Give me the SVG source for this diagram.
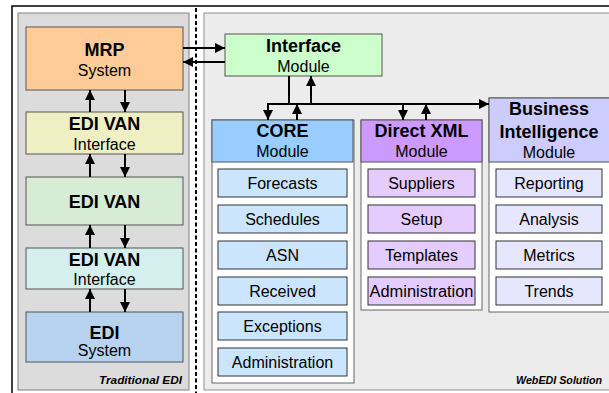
<svg xmlns="http://www.w3.org/2000/svg" width="609" height="393" viewBox="0 0 609 393">
<style>
text{font-family:"Liberation Sans",Arial,sans-serif;fill:#000;text-anchor:middle}
.t{font-weight:bold;font-size:18px}
.s{font-size:16px}
.it{font-size:16px}
.cap{font-weight:bold;font-style:italic;font-size:11.5px}
.box{stroke:#555;stroke-width:1}
.item{stroke:#333;stroke-width:1}
.cont{fill:#fff;stroke:#666;stroke-width:1}
.ln{stroke:#000;stroke-width:2;fill:none}
</style>
<defs>
<marker id="ah" viewBox="0 0 10 10" markerUnits="userSpaceOnUse" markerWidth="10" markerHeight="10" refX="10" refY="5" orient="auto">
<path d="M0,0 L10,5 L0,10 z" fill="#000"/>
</marker>
</defs>
<rect width="609" height="393" fill="#fff"/>
<path d="M12,393 V6 H609" fill="none" stroke="#000" stroke-width="1.5"/>
<g id="panels">
<rect x="18" y="13" width="171" height="377" fill="#dcdcdc" stroke="#808080"/>
<rect x="204" y="13" width="420" height="377" fill="#ececec" stroke="#909090"/>
<line x1="196" y1="8" x2="196" y2="393" stroke="#000" stroke-width="2" stroke-dasharray="4,2.5"/>
<text class="cap" x="182" y="384" style="text-anchor:end" textLength="83" lengthAdjust="spacingAndGlyphs">Traditional EDI</text>
<text class="cap" x="516" y="384" style="text-anchor:start" textLength="86" lengthAdjust="spacingAndGlyphs">WebEDI Solution</text>
</g>
<g id="mrp"><rect class="box" x="26" y="27" width="157" height="63" fill="#ffcc99"/><text class="t" x="104.5" y="56">MRP</text><text class="s" x="104.5" y="76">System</text></g>
<g id="ediVanIf1"><rect class="box" x="26" y="112" width="157" height="42" fill="#efefc4"/><text class="t" x="104.5" y="130">EDI VAN</text><text class="s" x="104.5" y="150">Interface</text></g>
<g id="ediVan"><rect class="box" x="26" y="177" width="157" height="48" fill="#d6ecd4"/><text class="t" x="104.5" y="208">EDI VAN</text></g>
<g id="ediVanIf2"><rect class="box" x="26" y="248" width="157" height="41" fill="#d5efee"/><text class="t" x="104.5" y="266">EDI VAN</text><text class="s" x="104.5" y="285">Interface</text></g>
<g id="ediSystem"><rect class="box" x="26" y="312" width="157" height="50" fill="#b8d3ef"/><text class="t" x="104.5" y="339">EDI</text><text class="s" x="104.5" y="356">System</text></g>
<g id="interfaceModule"><rect class="box" x="225" y="34" width="157" height="42" fill="#ccffcc"/><text class="t" x="303.5" y="52">Interface</text><text class="s" x="303.5" y="72">Module</text></g>
<g id="core">
<rect class="cont" x="212" y="120" width="142" height="263"/>
<rect class="box" x="212" y="120" width="141" height="42" fill="#99ccff"/>
<text class="t" x="282.5" y="137">CORE</text><text class="s" x="282.5" y="157">Module</text>
<rect class="item" x="218" y="169" width="129" height="28" fill="#cce5ff"/><text class="it" x="282.5" y="189">Forecasts</text>
<rect class="item" x="218" y="205" width="129" height="28" fill="#cce5ff"/><text class="it" x="282.5" y="225">Schedules</text>
<rect class="item" x="218" y="241" width="129" height="28" fill="#cce5ff"/><text class="it" x="282.5" y="261">ASN</text>
<rect class="item" x="218" y="277" width="129" height="28" fill="#cce5ff"/><text class="it" x="282.5" y="297">Received</text>
<rect class="item" x="218" y="312" width="129" height="28" fill="#cce5ff"/><text class="it" x="282.5" y="332">Exceptions</text>
<rect class="item" x="218" y="348" width="129" height="28" fill="#cce5ff"/><text class="it" x="282.5" y="368">Administration</text>
</g>
<g id="directXml">
<rect class="cont" x="361" y="120" width="121" height="190"/>
<rect class="box" x="361" y="120" width="121" height="42" fill="#cc99ff"/>
<text class="t" x="421.5" y="137">Direct XML</text><text class="s" x="421.5" y="157">Module</text>
<rect class="item" x="368" y="169" width="107" height="28" fill="#e5ccff"/><text class="it" x="421.5" y="189">Suppliers</text>
<rect class="item" x="368" y="205" width="107" height="28" fill="#e5ccff"/><text class="it" x="421.5" y="225">Setup</text>
<rect class="item" x="368" y="241" width="107" height="28" fill="#e5ccff"/><text class="it" x="421.5" y="261">Templates</text>
<rect class="item" x="368" y="277" width="107" height="28" fill="#e5ccff"/><text class="it" x="421.5" y="297" textLength="104" lengthAdjust="spacingAndGlyphs">Administration</text>
</g>
<g id="businessIntelligence">
<rect class="cont" x="489" y="98" width="130" height="214"/>
<rect class="box" x="489" y="98" width="130" height="64" fill="#ccccff"/>
<text class="t" x="549" y="115">Business</text><text class="t" x="549" y="138">Intelligence</text><text class="s" x="549" y="158">Module</text>
<rect class="item" x="496" y="169" width="106" height="28" fill="#e6e6ff"/><text class="it" x="549" y="189">Reporting</text>
<rect class="item" x="496" y="205" width="106" height="28" fill="#e6e6ff"/><text class="it" x="549" y="225">Analysis</text>
<rect class="item" x="496" y="241" width="106" height="28" fill="#e6e6ff"/><text class="it" x="549" y="261">Metrics</text>
<rect class="item" x="496" y="277" width="106" height="28" fill="#e6e6ff"/><text class="it" x="549" y="297">Trends</text>
</g>
<g id="connectors">
<line class="ln" x1="183" y1="48" x2="225" y2="48" marker-end="url(#ah)"/>
<line class="ln" x1="225" y1="62" x2="183" y2="62" marker-end="url(#ah)"/>
<line class="ln" x1="90" y1="112" x2="90" y2="90" marker-end="url(#ah)"/>
<line class="ln" x1="125" y1="90" x2="125" y2="112" marker-end="url(#ah)"/>
<line class="ln" x1="90" y1="177" x2="90" y2="154" marker-end="url(#ah)"/>
<line class="ln" x1="125" y1="154" x2="125" y2="177" marker-end="url(#ah)"/>
<line class="ln" x1="90" y1="248" x2="90" y2="225" marker-end="url(#ah)"/>
<line class="ln" x1="125" y1="225" x2="125" y2="248" marker-end="url(#ah)"/>
<line class="ln" x1="90" y1="312" x2="90" y2="289" marker-end="url(#ah)"/>
<line class="ln" x1="125" y1="289" x2="125" y2="312" marker-end="url(#ah)"/>
<line class="ln" x1="289" y1="76" x2="289" y2="105"/>
<line class="ln" x1="311" y1="104" x2="311" y2="76" marker-end="url(#ah)"/>
<line class="ln" x1="267" y1="104" x2="489" y2="104" marker-end="url(#ah)"/>
<line class="ln" x1="268" y1="103" x2="268" y2="120" marker-end="url(#ah)"/>
<line class="ln" x1="297" y1="120" x2="297" y2="104" marker-end="url(#ah)"/>
<line class="ln" x1="403" y1="103" x2="403" y2="120" marker-end="url(#ah)"/>
<line class="ln" x1="426" y1="120" x2="426" y2="104" marker-end="url(#ah)"/>
</g>
</svg>
